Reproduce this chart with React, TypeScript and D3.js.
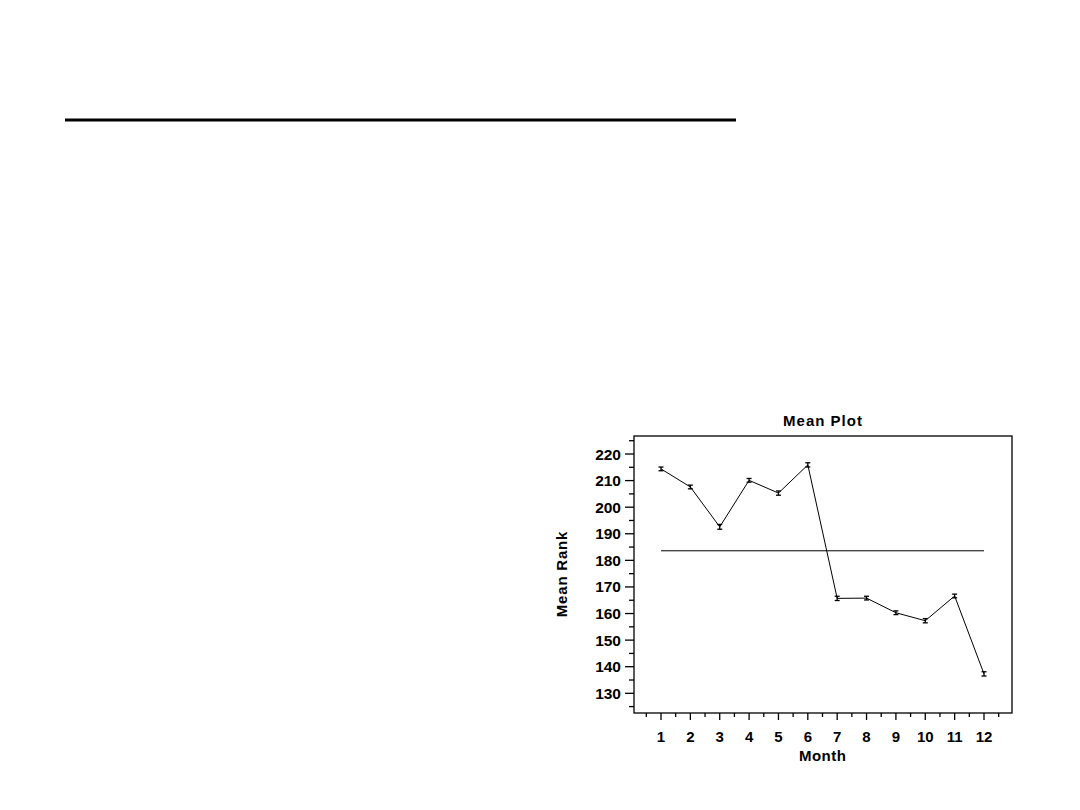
import React from "react";
import * as d3 from "d3";

const months = [1, 2, 3, 4, 5, 6, 7, 8, 9, 10, 11, 12];
const meanRank = [214.4, 207.6, 192.6, 210.1, 205.3, 215.9, 165.7, 165.8, 160.3, 157.3, 166.6, 137.3];
const errHalf = [0.7, 0.7, 0.9, 0.7, 0.8, 0.8, 0.8, 0.7, 0.7, 0.8, 0.7, 0.8];
const overallMean = 183.6;
const yMajorTicks = [130, 140, 150, 160, 170, 180, 190, 200, 210, 220];
const yMinorTicks = [125, 135, 145, 155, 165, 175, 185, 195, 205, 215, 225];
const xMinorTicks = [0.5, 1.5, 2.5, 3.5, 4.5, 5.5, 6.5, 7.5, 8.5, 9.5, 10.5, 11.5, 12.5];

const FONT = "'Liberation Sans', Arial, Helvetica, sans-serif";

export default function App() {
  const W = 1080, H = 810;
  const frame = { left: 634, top: 436, right: 1012, bottom: 713 };
  const x = d3.scaleLinear().domain([1, 12]).range([661, 984]);
  const y = d3.scaleLinear().domain([130, 220]).range([693.3, 454]);

  const line = d3.line<number>()
    .x((_, i) => x(months[i]))
    .y((d) => y(d));

  return (
    <svg width={W} height={H} style={{ position: "absolute", left: 0, top: 0, background: "#fff" }}>
      <rect x={0} y={0} width={W} height={H} fill="#fff" />
      {/* top rule */}
      <line x1={65} x2={736} y1={120} y2={120} stroke="#000" strokeWidth={3} />

      {/* title */}
      <text x={823} y={426} textAnchor="middle" fontFamily={FONT} fontWeight="bold" fontSize={15} letterSpacing={1} fill="#000">Mean Plot</text>

      {/* frame */}
      <rect x={frame.left} y={frame.top} width={frame.right - frame.left} height={frame.bottom - frame.top}
        fill="none" stroke="#000" strokeWidth={1.3} />

      {/* y ticks */}
      {yMajorTicks.map((t) => (
        <g key={"ym" + t}>
          <line x1={frame.left - 9} x2={frame.left} y1={y(t)} y2={y(t)} stroke="#000" strokeWidth={1.3} />
          <text x={621} y={y(t) + 5.5} textAnchor="end" fontFamily={FONT} fontWeight="bold" fontSize={15.5} fill="#000">{t}</text>
        </g>
      ))}
      {yMinorTicks.map((t) => (
        <line key={"yn" + t} x1={frame.left - 5} x2={frame.left} y1={y(t)} y2={y(t)} stroke="#000" strokeWidth={1.3} />
      ))}

      {/* x ticks */}
      {months.map((m) => (
        <g key={"xm" + m}>
          <line x1={x(m)} x2={x(m)} y1={frame.bottom} y2={frame.bottom + 7} stroke="#000" strokeWidth={1.3} />
          <text x={x(m)} y={742} textAnchor="middle" fontFamily={FONT} fontWeight="bold" fontSize={15} fill="#000">{m}</text>
        </g>
      ))}
      {xMinorTicks.map((t) => (
        <line key={"xn" + t} x1={x(t)} x2={x(t)} y1={frame.bottom} y2={frame.bottom + 4} stroke="#000" strokeWidth={1.3} />
      ))}

      {/* axis labels */}
      <text x={822.7} y={761} textAnchor="middle" fontFamily={FONT} fontWeight="bold" fontSize={15} letterSpacing={0.5} fill="#000">Month</text>
      <text transform={`translate(567,574) rotate(-90)`} textAnchor="middle" fontFamily={FONT} fontWeight="bold" fontSize={15} letterSpacing={0.8} fill="#000">Mean Rank</text>

      {/* overall mean line */}
      <line x1={x(1)} x2={x(12)} y1={y(overallMean)} y2={y(overallMean)} stroke="#000" strokeWidth={1} />

      {/* mean line */}
      <path d={line(meanRank) || ""} fill="none" stroke="#000" strokeWidth={1} />

      {/* error bars */}
      {meanRank.map((v, i) => {
        const cx = x(months[i]);
        const y1 = y(v + errHalf[i]);
        const y2 = y(v - errHalf[i]);
        return (
          <g key={"e" + i} stroke="#000" strokeWidth={1.3}>
            <line x1={cx} x2={cx} y1={y1} y2={y2} />
            <line x1={cx - 2.5} x2={cx + 2.5} y1={y1} y2={y1} />
            <line x1={cx - 2.5} x2={cx + 2.5} y1={y2} y2={y2} />
          </g>
        );
      })}
    </svg>
  );
}
